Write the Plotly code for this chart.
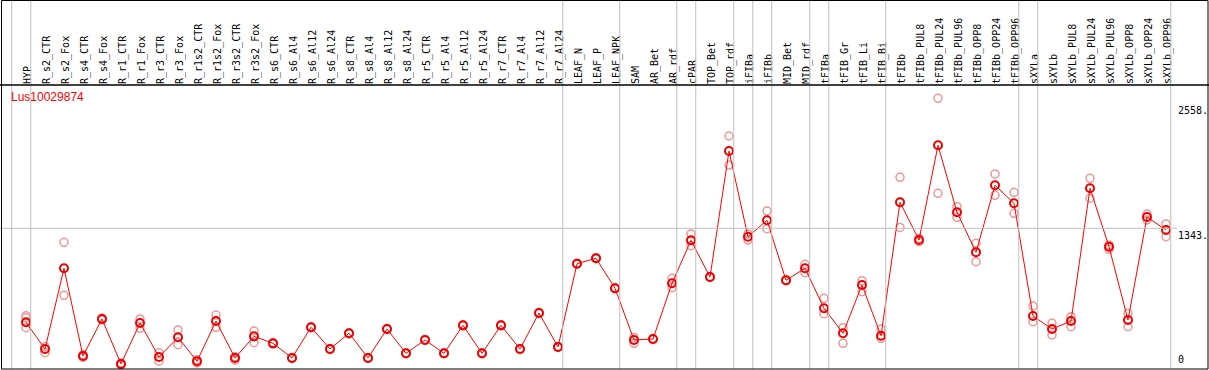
import plotly.graph_objects as go

title = "Lus10029874"
categories = [
    "HYP", "R_s2_CTR", "R_s2_Fox", "R_s4_CTR", "R_s4_Fox", "R_r1_CTR", "R_r1_Fox",
    "R_r3_CTR", "R_r3_Fox", "R_r1s2_CTR", "R_r1s2_Fox", "R_r3s2_CTR", "R_r3s2_Fox",
    "R_s6_CTR", "R_s6_Al4", "R_s6_Al12", "R_s6_Al24", "R_s8_CTR", "R_s8_Al4",
    "R_s8_Al12", "R_s8_Al24", "R_r5_CTR", "R_r5_Al4", "R_r5_Al12", "R_r5_Al24",
    "R_r7_CTR", "R_r7_Al4", "R_r7_Al12", "R_r7_Al24", "LEAF_N", "LEAF_P", "LEAF_NPK",
    "SAM", "AR_Bet", "AR_rdf", "cPAR", "TOP_Bet", "TOP_rdf", "iFIBa", "iFIBb",
    "MID_Bet", "MID_rdf", "tFIBa", "tFIB_Gr", "tFIB_Li", "tFIB_Bi", "tFIBb",
    "tFIBb_PUL8", "tFIBb_PUL24", "tFIBb_PUL96", "tFIBb_OPP8", "tFIBb_OPP24",
    "tFIBb_OPP96", "sXYLa", "sXYLb", "sXYLb_PUL8", "sXYLb_PUL24", "sXYLb_PUL96",
    "sXYLb_OPP8", "sXYLb_OPP24", "sXYLb_OPP96",
]
mean_vals = [
    430, 170, 954, 102, 462, 24, 423, 92, 284, 51, 442, 83, 293,
    225, 83, 381, 170, 323, 83, 364, 128, 258, 128, 400, 128,
    400, 170, 520, 190, 999, 1052, 760,
    258, 267, 809, 1226, 870, 2094, 1261, 1421,
    838, 954, 566, 323, 792, 299, 1596,
    1229, 2150, 1499, 1110, 1761, 1586,
    491, 364, 442, 1732, 1164, 452, 1453, 1327,
]
rep_a = [
    494, 192, 1207, 115, 471, 34, 462, 134, 355, 66, 500, 95, 345,
    232, 88, 386, 175, 328, 88, 369, 133, 263, 133, 405, 133,
    405, 175, 525, 195, 1004, 1057, 765,
    282, 272, 857, 1288, 875, 2240, 1288, 1511,
    843, 993, 663, 377, 834, 364, 1839,
    1246, 2606, 1553, 1197, 1871, 1693,
    588, 420, 484, 1829, 1181, 517, 1482, 1385,
]
rep_b = [
    377, 134, 692, 89, 452, 15, 371, 51, 212, 34, 381, 63, 231,
    218, 78, 376, 165, 318, 78, 359, 123, 253, 123, 395, 123,
    395, 165, 515, 185, 994, 1047, 755,
    225, 262, 766, 1174, 865, 1958, 1229, 1339,
    833, 912, 513, 225, 727, 274, 1351,
    1213, 1683, 1450, 1018, 1664, 1489,
    435, 306, 387, 1635, 1139, 387, 1424, 1261,
]
rep_c = [474] + [None] * (len(categories) - 1)
group_ends = [-1, 0, 28, 31, 34, 35, 37, 38, 39, 41, 42, 45, 52, 53, 60]
ytick_vals = [0, 1343, 2558]
ytick_text = ["0", "1343.", "2558."]

W, H = 1209, 370
X0, DX = 26.0, 19.0          # pixel position of first category and spacing
Y0, SY = 366.5, 0.1029       # pixel of value 0 and px per unit
PLOT_TOP, PLOT_BOT = 85, 369
LABEL_SHIFT = 0.1            # rotated labels are centred a little right of the tick


def px(v):
    return v / W


def py(v):
    return 1 - v / H


x = list(range(len(categories)))

fig = go.Figure()
rep_color = "#ef9696"
for reps in (rep_a, rep_b, rep_c):
    fig.add_trace(go.Scatter(
        x=x, y=reps, mode="markers", hoverinfo="skip",
        marker=dict(symbol="circle-open", size=8, color=rep_color, line=dict(width=1.5)),
    ))
fig.add_trace(go.Scatter(
    x=x, y=mean_vals, mode="lines+markers",
    line=dict(color="#ff0000", width=1),
    marker=dict(symbol="circle-open", size=8, color="#ee0000", line=dict(width=2)),
))

shapes = []
for g in group_ends:
    shapes.append(dict(type="line", xref="x", yref="paper", x0=g + 0.25, x1=g + 0.25,
                       y0=py(PLOT_BOT), y1=1, line=dict(color="#c0c0c0", width=1)))
shapes.append(dict(type="line", xref="paper", yref="y", x0=0, x1=px(1177),
                   y0=ytick_vals[1], y1=ytick_vals[1], line=dict(color="#c0c0c0", width=1)))
# frame and header separator
shapes.append(dict(type="rect", xref="paper", yref="paper", x0=px(1.5), x1=px(1208),
                   y0=py(369), y1=py(0.5), line=dict(color="black", width=1)))
shapes.append(dict(type="line", xref="paper", yref="paper", x0=0, x1=1,
                   y0=py(85), y1=py(85), line=dict(color="black", width=1.5)))

annotations = [dict(text=title, xref="paper", yref="paper", x=px(9), y=py(97),
                    xanchor="left", yanchor="middle", showarrow=False,
                    font=dict(family="Liberation Sans", size=12, color="#ff0000"))]
for v, t in zip(ytick_vals, ytick_text):
    annotations.append(dict(text=t, xref="paper", yref="y", x=px(1176), y=v,
                            xanchor="left", yanchor="bottom" if v == 0 else "top",
                            showarrow=False, font=dict(family="DejaVu Sans Mono", size=10, color="black")))

fig.update_layout(
    width=W, height=H, margin=dict(l=0, r=0, t=0, b=0),
    paper_bgcolor="white", plot_bgcolor="white", showlegend=False,
    shapes=shapes, annotations=annotations,
    xaxis=dict(domain=[0, 1], range=[-X0 / DX, (W - X0) / DX], side="top",
               tickmode="array", tickvals=[i + LABEL_SHIFT for i in x], ticktext=categories,
               tickangle=-90,
               tickfont=dict(family="DejaVu Sans Mono", size=10, color="black"),
               showgrid=False, zeroline=False, showline=False, ticks=""),
    yaxis=dict(domain=[py(PLOT_BOT), py(PLOT_TOP)],
               range=[(Y0 - PLOT_BOT) / SY, (Y0 - PLOT_TOP) / SY],
               showgrid=False, zeroline=False, showticklabels=False),
)

fig.write_html("out.html", config={"displayModeBar": False})
with open("out.html", encoding="utf-8") as f:
    page = f.read()
page = page.replace("<head>", "<head><style>html,body{margin:0;padding:0;overflow:hidden}</style>", 1)
with open("out.html", "w", encoding="utf-8") as f:
    f.write(page)
